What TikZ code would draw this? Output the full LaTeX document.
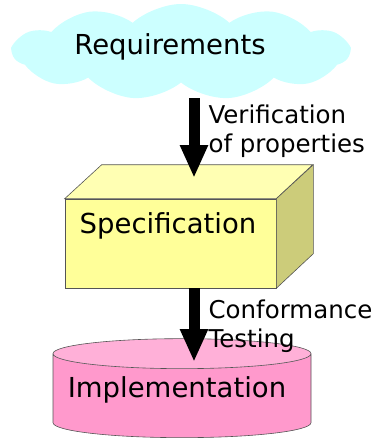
\documentclass[tikz,border=0pt]{standalone}
\usepackage{fontspec}
\setmainfont{DejaVu Sans}
\usetikzlibrary{shapes.symbols, shapes.geometric, arrows.meta, positioning}

\definecolor{cloudcyan}{HTML}{CCFFFF}
\definecolor{specfront}{HTML}{FFFF99}
\definecolor{spectop}{HTML}{FFFFB3}
\definecolor{specside}{HTML}{CCCC7A}
\definecolor{implbody}{HTML}{FF99CC}
\definecolor{impltop}{HTML}{FFB0D8}
\definecolor{edgegray}{HTML}{555555}

\begin{document}
\begin{tikzpicture}[x=1pt, y=-1pt,
    bigtext/.style={font=\fontsize{27.5}{33}\selectfont},
    smalltext/.style={font=\fontsize{24.5}{29}\selectfont, align=left, anchor=west},
    bigarrow/.style={line width=11pt, -{Triangle[width=26pt, length=33pt]}},
    face/.style={draw=edgegray, line width=0.6pt}]
    \useasboundingbox (0,0) rectangle (381,447);

    \node[cloud, cloud puffs=11, cloud puff arc=85, cloud ignores aspect, fill=cloudcyan,
        minimum width=336pt, minimum height=96pt] (req) at (181,52) {};
    \node[bigtext] (reqtext) at (170,47) {Requirements};

    \node[face, fill=specfront, minimum width=211pt, minimum height=89pt] (spec) at (170.5,243.5) {};
    \filldraw[face, fill=spectop] (spec.north west) -- ++(37,-34) -- ++(211,0) -- (spec.north east) -- cycle;
    \filldraw[face, fill=specside] (spec.north east) -- ++(37,-34) -- ++(0,89) -- (spec.south east) -- cycle;
    \node[bigtext] (spectext) at (168,226) {Specification};

    \node[cylinder, shape border rotate=90, aspect=4.5, face, cylinder uses custom fill,
        cylinder body fill=implbody, cylinder end fill=impltop,
        minimum width=258pt, minimum height=99pt] (impl) at (182,397.5) {};
    \node[bigtext] (impltext) at (177,390) {Implementation};

    \coordinate (a1s) at (194,98);
    \coordinate (a1e) at (194,178);
    \coordinate (a2s) at (194,288);
    \coordinate (a2e) at (194,362);
    \draw[bigarrow] (a1s) -- (a1e);
    \draw[bigarrow] (a2s) -- (a2e);

    \node[smalltext] (verif) at (205,131) {Verification\\of properties};
    \node[smalltext] (conf) at (205,326) {Conformance\\Testing};
\end{tikzpicture}
\end{document}
